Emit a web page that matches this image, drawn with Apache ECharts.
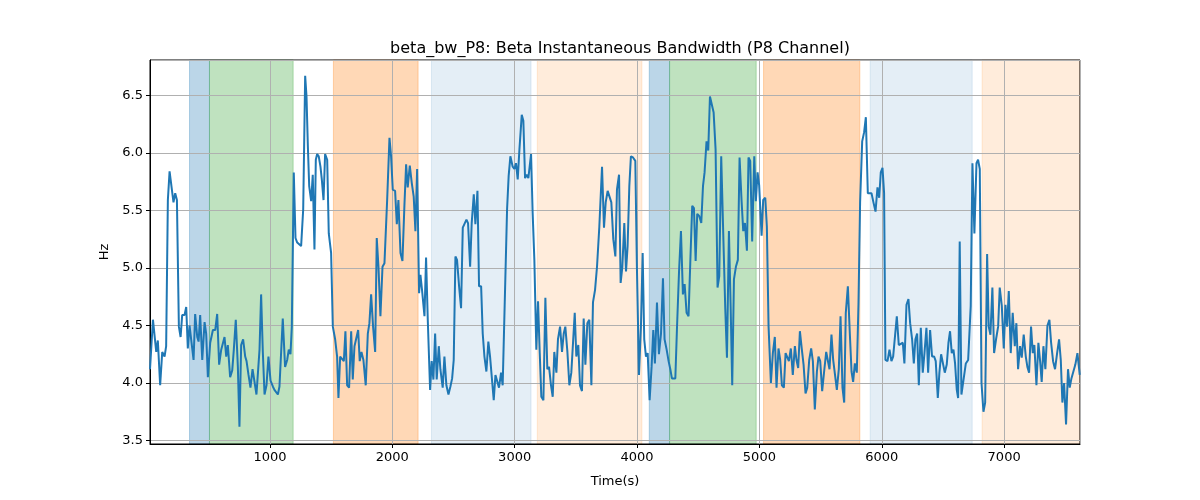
<!DOCTYPE html>
<html>
<head>
<meta charset="utf-8">
<script src="https://cdn.jsdelivr.net/npm/echarts@6/dist/echarts.min.js"></script>
<style>
  html, body { margin: 0; padding: 0; background: #fff; }
  #chart { width: 1200px; height: 500px; }
</style>
</head>
<body>
<div id="chart"></div>
<script>
// sample times (s)
const times = [
  20, 44, 71, 84, 103, 120, 139, 152, 166, 180, 193, 212, 226, 240, 256, 270, 283, 302, 316, 329,
  343, 359, 376, 389, 406, 417, 430, 447, 466, 479, 493, 512, 534, 553, 569, 585, 602, 618, 629, 643,
  656, 675, 692, 705, 721, 738, 751, 765, 781, 798, 809, 825, 841, 858, 874, 890, 901, 915, 928, 942,
  956, 972, 988, 1005, 1024, 1037,
  1043, 1065, 1078, 1092, 1105, 1124, 1141, 1154, 1168, 1179, 1195, 1209, 1223, 1239, 1255, 1272, 1288, 1299, 1310, 1321,
  1337, 1350, 1364, 1375, 1386, 1399, 1413, 1424, 1438, 1451, 1468, 1481, 1500, 1514, 1533, 1549, 1560, 1574, 1590, 1604,
  1617, 1631, 1647, 1664, 1677, 1691, 1704, 1721, 1734, 1748, 1764, 1783, 1800, 1813, 1827, 1843, 1860, 1873, 1887, 1903,
  1920,
  1936, 1958, 1977, 1990, 2004, 2023, 2037, 2050, 2067, 2083, 2099, 2113, 2126, 2143, 2159, 2175, 2189, 2203, 2219, 2230,
  2243, 2263, 2276, 2290, 2309, 2322, 2336, 2350, 2363, 2380, 2393, 2412, 2426, 2442, 2459, 2475, 2489, 2502, 2516, 2529,
  2546, 2562, 2576, 2589, 2606, 2619, 2636, 2649, 2666, 2679, 2696, 2709, 2726, 2739, 2753, 2769, 2785, 2799, 2813, 2829,
  2843, 2856, 2872, 2889, 2902,
  2916, 2938, 2951, 2965, 2984, 2998, 3011, 3025, 3039, 3058, 3071, 3085, 3098, 3112, 3123, 3134, 3147, 3161, 3177, 3191,
  3205, 3218, 3235, 3251, 3267, 3281, 3297, 3311, 3324, 3341, 3354, 3371, 3387, 3401, 3414, 3431, 3447, 3463, 3477, 3491,
  3504, 3520, 3534, 3550, 3564, 3578, 3594, 3610, 3627, 3640, 3657, 3673, 3692, 3714, 3730, 3744, 3760, 3776, 3790, 3806,
  3823, 3836, 3853, 3866, 3880,
  3896, 3910, 3923, 3937, 3950, 3967, 3986, 3999, 4016, 4032, 4046, 4059, 4073, 4087, 4103, 4119, 4133, 4146, 4163, 4179,
  4196, 4212, 4225, 4242, 4258, 4272, 4285, 4299, 4313, 4326, 4343, 4359, 4375, 4389, 4405, 4421, 4435, 4451, 4465, 4479,
  4492, 4509, 4525, 4539, 4552, 4568, 4582, 4596, 4609, 4626, 4642, 4658, 4672, 4688, 4705, 4721, 4735, 4751, 4765, 4778,
  4792, 4808, 4824, 4838, 4854, 4868, 4882,
  4898, 4911, 4925, 4941, 4958, 4971, 4985, 4998, 5018, 5031, 5048, 5061, 5075, 5094, 5110, 5126, 5140, 5156, 5170, 5184,
  5200, 5214, 5227, 5241, 5257, 5273, 5290, 5303, 5317, 5331, 5347, 5361, 5377, 5391, 5407, 5423, 5437, 5453, 5470, 5483,
  5497, 5513, 5529, 5546, 5559, 5573, 5589, 5603, 5617, 5633, 5649, 5663, 5679, 5693, 5706, 5723, 5739, 5753, 5766, 5780,
  5796, 5810, 5823, 5840,
  5856, 5870, 5886, 5900, 5916, 5932, 5949, 5965, 5979, 5992, 6006, 6019, 6030, 6047, 6063, 6079, 6093, 6109, 6123, 6139,
  6155, 6172, 6185, 6202, 6218, 6232, 6248, 6262, 6275, 6289, 6303, 6319, 6335, 6349, 6365, 6379, 6395, 6411, 6428, 6441,
  6458, 6471, 6485, 6501, 6515, 6531, 6545, 6558, 6572, 6586, 6599, 6613, 6624, 6637, 6651, 6667,
  6687, 6706, 6714, 6727, 6741, 6757, 6774, 6787, 6801, 6815, 6831, 6845, 6861, 6874, 6888, 6904, 6918, 6934, 6951, 6964,
  6981, 6997, 7011, 7024, 7038, 7054, 7070, 7087, 7100, 7114, 7130, 7144, 7160, 7177, 7190, 7204, 7220, 7234, 7247, 7264,
  7280, 7294, 7307, 7321, 7337, 7354, 7370, 7384, 7400, 7416, 7433, 7449, 7463, 7476, 7490, 7506, 7522, 7536, 7550, 7566,
  7582, 7599, 7618
]

// beta bandwidth, Hz
const bandwidth = [
  4.12, 4.55, 4.27, 4.37, 3.98, 4.27, 4.23, 4.32, 5.59, 5.84, 5.85, 5.57, 5.65, 5.59, 4.49, 4.40, 4.59, 4.59, 4.66, 4.30,
  4.50, 4.49, 4.20, 4.60, 4.40, 4.36, 4.59, 4.20, 4.53, 4.43, 4.05, 4.35, 4.46, 4.46, 4.60, 4.16, 4.29, 4.29, 4.40, 4.23,
  4.33, 4.05, 4.11, 4.29, 4.55, 4.14, 3.62, 4.33, 4.38, 4.23, 4.19, 4.07, 3.96, 4.12, 4.12, 3.90, 3.89, 4.29, 4.77, 4.27,
  3.90, 3.98, 4.23, 4.02, 3.97, 3.94,
  3.93, 3.90, 3.97, 3.98, 4.56, 4.14, 4.20, 4.29, 4.25, 4.49, 5.83, 5.26, 5.22, 5.21, 5.19, 5.51, 6.67, 6.49, 6.06, 5.71,
  5.58, 5.81, 5.16, 5.94, 5.99, 5.97, 5.88, 5.77, 5.59, 5.99, 5.94, 5.30, 5.13, 4.49, 4.38, 4.23, 3.87, 4.23, 4.22, 4.19,
  4.45, 3.98, 3.96, 4.45, 4.03, 4.32, 4.33, 4.46, 4.19, 4.27, 4.20, 3.98, 4.43, 4.52, 4.77, 4.49, 4.27, 5.26, 5.01, 4.58,
  5.01,
  5.04, 5.59, 6.13, 5.97, 5.68, 5.67, 5.38, 5.59, 5.13, 5.06, 5.54, 5.90, 5.70, 5.89, 5.74, 5.62, 5.32, 5.86, 4.78, 4.94,
  4.81, 4.58, 5.09, 4.55, 3.94, 4.19, 4.03, 4.43, 4.03, 4.32, 4.12, 3.96, 4.23, 3.98, 3.90, 3.97, 4.04, 4.20, 5.10, 5.07,
  4.84, 4.65, 5.35, 5.36, 5.42, 5.39, 5.01, 5.39, 5.64, 5.38, 5.67, 4.84, 4.84, 4.43, 4.23, 4.10, 4.36, 4.23, 4.23, 3.85,
  4.07, 4.07, 3.96, 4.09, 3.98,
  3.98, 5.51, 5.80, 5.97, 5.88, 5.86, 5.91, 5.77, 6.03, 6.33, 6.28, 5.78, 5.81, 5.78, 5.77, 5.99, 5.48, 5.07, 4.29, 4.71,
  4.26, 3.88, 3.85, 4.74, 4.12, 4.14, 3.98, 3.88, 4.27, 4.09, 4.38, 4.49, 4.27, 4.43, 4.49, 4.27, 3.98, 4.09, 4.10, 4.61,
  4.23, 4.33, 3.98, 3.93, 4.56, 4.16, 4.52, 4.55, 3.98, 4.70, 4.81, 5.01, 5.36, 5.88, 5.35, 5.57, 5.67, 5.67, 5.57, 5.25,
  5.10, 5.68, 5.81, 4.87, 5.01,
  5.39, 4.97, 5.19, 5.71, 5.97, 5.96, 5.93, 5.01, 4.07, 4.49, 5.13, 4.38, 4.23, 4.26, 3.85, 4.14, 4.46, 4.17, 4.70, 4.25,
  4.43, 4.91, 4.38, 4.29, 4.19, 4.12, 4.04, 4.03, 4.04, 4.46, 4.96, 5.32, 4.77, 4.86, 4.61, 4.58, 5.04, 5.54, 5.52, 5.06,
  5.47, 5.45, 5.39, 5.71, 5.83, 6.10, 6.02, 6.49, 6.48, 6.35, 6.03, 4.83, 4.93, 5.97, 5.28, 4.65, 4.22, 5.32, 4.67, 3.98,
  4.90, 5.01, 5.07, 5.96, 5.59, 5.32, 5.39,
  5.15, 5.96, 5.93, 5.23, 5.97, 5.58, 5.83, 5.72, 5.28, 5.59, 5.61, 5.36, 4.49, 4.00, 4.26, 4.40, 3.96, 4.30, 4.20, 3.98,
  3.96, 4.26, 4.27, 4.19, 4.30, 4.07, 4.32, 4.20, 4.13, 4.45, 4.29, 4.16, 3.91, 3.96, 4.20, 4.30, 4.19, 3.77, 4.10, 4.23,
  4.19, 3.93, 4.10, 4.27, 4.26, 4.12, 4.42, 4.20, 4.20, 3.94, 4.12, 4.58, 3.96, 3.83, 4.61, 4.84, 4.43, 4.10, 4.01, 4.17,
  4.09, 4.70, 5.57, 6.10,
  6.18, 6.31, 5.65, 5.64, 5.65, 5.57, 5.49, 5.70, 5.61, 5.83, 5.87, 5.65, 4.20, 4.19, 4.29, 4.19, 4.23, 4.22, 4.58, 4.33,
  4.32, 4.35, 4.17, 4.68, 4.73, 4.52, 4.38, 4.17, 4.38, 4.43, 3.98, 4.48, 4.09, 4.26, 4.48, 4.09, 4.46, 4.23, 4.23, 4.19,
  3.87, 4.09, 4.25, 4.26, 4.09, 4.16, 4.35, 4.45, 4.26, 4.29, 4.17, 3.94, 3.87, 5.23, 3.90, 3.91,
  4.17, 4.20, 4.20, 4.67, 5.91, 5.30, 5.91, 5.94, 5.86, 4.00, 3.75, 3.83, 5.12, 4.49, 4.42, 4.83, 4.26, 4.38, 4.49, 4.83,
  4.67, 4.30, 4.68, 4.49, 4.80, 4.26, 4.61, 4.32, 4.52, 4.12, 4.32, 4.22, 4.42, 4.23, 4.14, 4.09, 4.49, 4.26, 4.33, 3.98,
  4.35, 4.19, 4.01, 4.32, 4.12, 4.50, 4.55, 4.35, 4.19, 4.12, 4.26, 4.38, 4.20, 3.83, 4.00, 3.64, 4.12, 3.96, 4.04, 4.04,
  4.16, 4.26, 4.07
]

// shaded stretches: start, end, kind
const bandStart = [343, 506, 1519, 2320, 3185, 4100, 4266, 5034, 5905, 6820]
const bandEnd   = [506, 1190, 2211, 3134, 4040, 4266, 4974, 5821, 6739, 7620]
const bandKind  = ['blue', 'green', 'orange', 'paleBlue', 'paleOrange', 'blue', 'green', 'orange', 'paleBlue', 'paleOrange']

const xRange = [20, 7620]
const yRange = [3.47, 6.807]

const kindColor = {
  blue: 'rgba(31,119,180,0.3)',
  green: 'rgba(44,160,44,0.3)',
  orange: 'rgba(255,127,14,0.3)',
  paleBlue: 'rgba(31,119,180,0.12)',
  paleOrange: 'rgba(255,127,14,0.15)'
}

let n = Math.min(times.length, bandwidth.length)
let lineData = []
for (let i = 0; i < n; i++) lineData.push([times[i], bandwidth[i]])

let areas = bandStart.map((s, i) => {
  let c = kindColor[bandKind[i]]
  return [{ xAxis: s, itemStyle: { color: c, borderColor: c, borderWidth: 1 } }, { xAxis: bandEnd[i] }]
})

let chart = echarts.init(document.getElementById('chart'), null, { renderer: 'canvas' })
const font = 'DejaVu Sans'
let option = {
  animation: false,
  backgroundColor: '#fff',
  title: {
    text: 'beta_bw_P8: Beta Instantaneous Bandwidth (P8 Channel)',
    left: 615,
    top: 36,
    textAlign: 'center',
    textStyle: { fontFamily: font, fontSize: 16, fontWeight: 'normal', color: '#000' }
  },
  grid: {
    left: 150, right: 120, top: 60, bottom: 56,
    show: true, borderColor: '#000', borderWidth: 1, backgroundColor: 'transparent'
  },
  xAxis: {
    type: 'value',
    min: xRange[0], max: xRange[1],
    splitNumber: 8,
    name: 'Time(s)',
    nameLocation: 'middle',
    nameGap: 31,
    nameTextStyle: { fontFamily: font, fontSize: 13, color: '#000' },
    axisLine: { show: true, onZero: false, lineStyle: { color: '#000', width: 1 } },
    axisTick: { show: true, inside: false, length: 4, lineStyle: { color: '#000' } },
    axisLabel: {
      fontFamily: font, fontSize: 13, color: '#000', margin: 7,
      showMinLabel: false, showMaxLabel: false,
      formatter: v => String(v)
    },
    splitLine: { show: true, lineStyle: { color: '#b0b0b0', width: 1 } }
  },
  yAxis: {
    type: 'value',
    min: yRange[0], max: yRange[1],
    splitNumber: 7,
    name: 'Hz',
    nameLocation: 'middle',
    nameGap: 37,
    nameRotate: 90,
    nameTextStyle: { fontFamily: font, fontSize: 13, color: '#000' },
    axisLine: { show: true, onZero: false, lineStyle: { color: '#000', width: 1 } },
    axisTick: { show: true, inside: false, length: 4, lineStyle: { color: '#000' } },
    axisLabel: {
      fontFamily: font, fontSize: 13, color: '#000', margin: 7,
      showMinLabel: false, showMaxLabel: false,
      formatter: v => v.toFixed(1)
    },
    splitLine: { show: true, lineStyle: { color: '#b0b0b0', width: 1 } }
  },
  series: [{
    type: 'line',
    data: lineData,
    showSymbol: false,
    lineStyle: { color: '#1f77b4', width: 2 },
    itemStyle: { color: '#1f77b4' },
    markArea: { silent: true, z: -1, data: areas }
  }]
}
chart.setOption(option)
</script>
</body>
</html>
